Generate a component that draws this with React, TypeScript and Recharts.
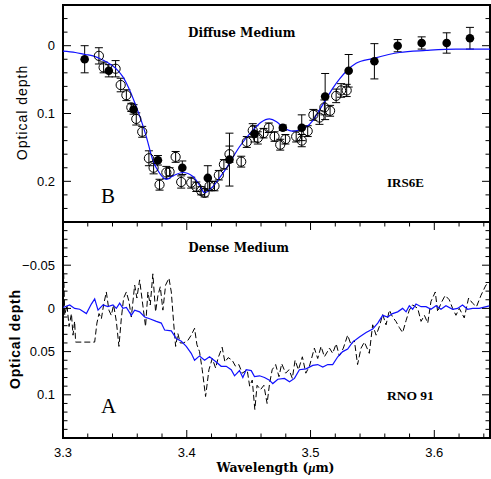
import React from "react";
import { ComposedChart, ErrorBar, Line, ReferenceArea, Scatter, XAxis, YAxis } from "recharts";

// wavelength ticks (micron)
const xTicks = [3.3, 3.32, 3.34, 3.36, 3.38, 3.4, 3.42, 3.44, 3.46, 3.48, 3.5, 3.52, 3.54, 3.56, 3.58, 3.6, 3.62, 3.64];
const xMajor = [3.3, 3.4, 3.5, 3.6];

const topTicks = [-0.06, -0.04, -0.02, 0, 0.02, 0.04, 0.06, 0.08, 0.1, 0.12, 0.14, 0.16, 0.18, 0.2, 0.22, 0.24, 0.26];
const topMajor = [0, 0.1, 0.2];

const bottomTicks = [
  -0.1, -0.09, -0.08, -0.07, -0.06, -0.05, -0.04, -0.03, -0.02, -0.01, 0, 0.01, 0.02, 0.03, 0.04, 0.05, 0.06, 0.07, 0.08,
  0.09, 0.1, 0.11, 0.12, 0.13, 0.14, 0.15
];
const bottomMajor = [-0.05, 0, 0.05, 0.1];

// diffuse medium, filled points
const diffuseFilled = [
  { lambda: 3.3175, tau: 0.02, err: 0.02 },
  { lambda: 3.337, tau: 0.037, err: 0.009 },
  { lambda: 3.357, tau: 0.094, err: 0.007 },
  { lambda: 3.3767, tau: 0.169, err: 0.007 },
  { lambda: 3.3964, tau: 0.18, err: 0.01 },
  { lambda: 3.417, tau: 0.195, err: 0.018 },
  { lambda: 3.4345, tau: 0.168, err: 0.039 },
  { lambda: 3.4547, tau: 0.13, err: 0.012 },
  { lambda: 3.4776, tau: 0.121, err: 0.004 },
  { lambda: 3.4929, tau: 0.121, err: 0.019 },
  { lambda: 3.5118, tau: 0.075, err: 0.034 },
  { lambda: 3.5308, tau: 0.037, err: 0.024 },
  { lambda: 3.5516, tau: 0.023, err: 0.026 },
  { lambda: 3.5704, tau: 0.0, err: 0.009 },
  { lambda: 3.5898, tau: -0.004, err: 0.009 },
  { lambda: 3.61, tau: -0.004, err: 0.015 },
  { lambda: 3.6288, tau: -0.011, err: 0.016 }
];

// diffuse medium, open points
const diffuseOpen = [
  { lambda: 3.329, tau: 0.015, err: 0.012 },
  { lambda: 3.3328, tau: 0.032, err: 0.008 },
  { lambda: 3.3425, tau: 0.034, err: 0.012 },
  { lambda: 3.3466, tau: 0.058, err: 0.01 },
  { lambda: 3.3512, tau: 0.073, err: 0.008 },
  { lambda: 3.3552, tau: 0.091, err: 0.006 },
  { lambda: 3.3592, tau: 0.108, err: 0.009 },
  { lambda: 3.364, tau: 0.127, err: 0.008 },
  { lambda: 3.3694, tau: 0.166, err: 0.011 },
  { lambda: 3.3732, tau: 0.18, err: 0.009 },
  { lambda: 3.378, tau: 0.205, err: 0.008 },
  { lambda: 3.3835, tau: 0.187, err: 0.009 },
  { lambda: 3.3861, tau: 0.186, err: 0.006 },
  { lambda: 3.391, tau: 0.164, err: 0.008 },
  { lambda: 3.3955, tau: 0.201, err: 0.009 },
  { lambda: 3.4036, tau: 0.202, err: 0.008 },
  { lambda: 3.4077, tau: 0.208, err: 0.007 },
  { lambda: 3.4117, tau: 0.214, err: 0.006 },
  { lambda: 3.4144, tau: 0.217, err: 0.006 },
  { lambda: 3.4184, tau: 0.207, err: 0.007 },
  { lambda: 3.4224, tau: 0.207, err: 0.007 },
  { lambda: 3.4259, tau: 0.191, err: 0.007 },
  { lambda: 3.43, tau: 0.175, err: 0.007 },
  { lambda: 3.4345, tau: 0.16, err: 0.012 },
  { lambda: 3.444, tau: 0.171, err: 0.008 },
  { lambda: 3.4485, tau: 0.142, err: 0.008 },
  { lambda: 3.4533, tau: 0.125, err: 0.01 },
  { lambda: 3.4574, tau: 0.136, err: 0.009 },
  { lambda: 3.462, tau: 0.129, err: 0.007 },
  { lambda: 3.4663, tau: 0.121, err: 0.007 },
  { lambda: 3.4709, tau: 0.134, err: 0.007 },
  { lambda: 3.4755, tau: 0.146, err: 0.008 },
  { lambda: 3.4797, tau: 0.138, err: 0.007 },
  { lambda: 3.4884, tau: 0.134, err: 0.008 },
  { lambda: 3.4929, tau: 0.14, err: 0.009 },
  { lambda: 3.4977, tau: 0.126, err: 0.008 },
  { lambda: 3.5023, tau: 0.102, err: 0.008 },
  { lambda: 3.5072, tau: 0.106, err: 0.01 },
  { lambda: 3.5112, tau: 0.091, err: 0.011 },
  { lambda: 3.5158, tau: 0.096, err: 0.008 },
  { lambda: 3.5207, tau: 0.074, err: 0.01 },
  { lambda: 3.5247, tau: 0.066, err: 0.01 },
  { lambda: 3.5292, tau: 0.066, err: 0.009 }
];

// lab spectrum fitted to the diffuse medium
const diffuseModel = [
  { lambda: 3.3, tau: 0.008 },
  { lambda: 3.31, tau: 0.01 },
  { lambda: 3.318, tau: 0.013 },
  { lambda: 3.3242, tau: 0.015 },
  { lambda: 3.332, tau: 0.021 },
  { lambda: 3.3395, tau: 0.029 },
  { lambda: 3.344, tau: 0.036 },
  { lambda: 3.3484, tau: 0.046 },
  { lambda: 3.353, tau: 0.062 },
  { lambda: 3.3592, tau: 0.09 },
  { lambda: 3.3635, tau: 0.112 },
  { lambda: 3.3673, tau: 0.134 },
  { lambda: 3.3726, tau: 0.169 },
  { lambda: 3.378, tau: 0.188 },
  { lambda: 3.3834, tau: 0.197 },
  { lambda: 3.3888, tau: 0.192 },
  { lambda: 3.3969, tau: 0.187 },
  { lambda: 3.405, tau: 0.193 },
  { lambda: 3.41, tau: 0.205 },
  { lambda: 3.4144, tau: 0.217 },
  { lambda: 3.421, tau: 0.208 },
  { lambda: 3.4265, tau: 0.195 },
  { lambda: 3.4319, tau: 0.181 },
  { lambda: 3.4426, tau: 0.149 },
  { lambda: 3.4533, tau: 0.125 },
  { lambda: 3.46, tau: 0.113 },
  { lambda: 3.4668, tau: 0.108 },
  { lambda: 3.4725, tau: 0.112 },
  { lambda: 3.4776, tau: 0.12 },
  { lambda: 3.4856, tau: 0.126 },
  { lambda: 3.4964, tau: 0.12 },
  { lambda: 3.502, tau: 0.11 },
  { lambda: 3.5072, tau: 0.095 },
  { lambda: 3.5125, tau: 0.079 },
  { lambda: 3.5179, tau: 0.063 },
  { lambda: 3.5235, tau: 0.049 },
  { lambda: 3.5287, tau: 0.038 },
  { lambda: 3.5368, tau: 0.026 },
  { lambda: 3.5502, tau: 0.019 },
  { lambda: 3.5718, tau: 0.01 },
  { lambda: 3.5933, tau: 0.007 },
  { lambda: 3.6175, tau: 0.005 },
  { lambda: 3.645, tau: 0.005 }
];

// dense medium lab spectrum (blue)
const denseModel = [
  { lambda: 3.3, tau: -0.001 }, { lambda: 3.3054, tau: -0.004 }, { lambda: 3.3094, tau: 0.0 }, { lambda: 3.3135, tau: 0.001 },
  { lambda: 3.3189, tau: 0.006 }, { lambda: 3.3229, tau: -0.005 }, { lambda: 3.3256, tau: -0.011 }, { lambda: 3.3283, tau: 0.002 },
  { lambda: 3.3323, tau: -0.004 }, { lambda: 3.3363, tau: -0.002 }, { lambda: 3.3404, tau: -0.004 }, { lambda: 3.3431, tau: 0.0 },
  { lambda: 3.3458, tau: -0.006 }, { lambda: 3.3484, tau: 0.0 }, { lambda: 3.3512, tau: -0.001 }, { lambda: 3.3552, tau: 0.008 },
  { lambda: 3.3579, tau: 0.002 }, { lambda: 3.3619, tau: 0.004 }, { lambda: 3.366, tau: 0.01 }, { lambda: 3.37, tau: 0.012 },
  { lambda: 3.3754, tau: 0.015 }, { lambda: 3.3794, tau: 0.017 }, { lambda: 3.3821, tau: 0.025 }, { lambda: 3.3875, tau: 0.026 },
  { lambda: 3.3915, tau: 0.035 }, { lambda: 3.3956, tau: 0.038 }, { lambda: 3.3996, tau: 0.044 }, { lambda: 3.4036, tau: 0.052 },
  { lambda: 3.4063, tau: 0.06 }, { lambda: 3.4103, tau: 0.055 }, { lambda: 3.4144, tau: 0.06 }, { lambda: 3.4184, tau: 0.056 },
  { lambda: 3.4238, tau: 0.062 }, { lambda: 3.4278, tau: 0.067 }, { lambda: 3.4319, tau: 0.067 }, { lambda: 3.4359, tau: 0.071 },
  { lambda: 3.4386, tau: 0.078 }, { lambda: 3.4426, tau: 0.072 }, { lambda: 3.4453, tau: 0.08 }, { lambda: 3.448, tau: 0.071 },
  { lambda: 3.4521, tau: 0.072 }, { lambda: 3.4547, tau: 0.079 }, { lambda: 3.4588, tau: 0.078 }, { lambda: 3.4628, tau: 0.08 },
  { lambda: 3.4668, tau: 0.083 }, { lambda: 3.4695, tau: 0.087 }, { lambda: 3.4736, tau: 0.082 }, { lambda: 3.4789, tau: 0.081 },
  { lambda: 3.483, tau: 0.085 }, { lambda: 3.487, tau: 0.081 }, { lambda: 3.491, tau: 0.071 }, { lambda: 3.4964, tau: 0.07 },
  { lambda: 3.5018, tau: 0.066 }, { lambda: 3.5058, tau: 0.065 }, { lambda: 3.5099, tau: 0.068 }, { lambda: 3.5139, tau: 0.065 },
  { lambda: 3.5179, tau: 0.065 }, { lambda: 3.522, tau: 0.056 }, { lambda: 3.526, tau: 0.05 }, { lambda: 3.53, tau: 0.047 },
  { lambda: 3.534, tau: 0.039 }, { lambda: 3.5395, tau: 0.033 }, { lambda: 3.5449, tau: 0.028 }, { lambda: 3.5502, tau: 0.024 },
  { lambda: 3.5543, tau: 0.017 }, { lambda: 3.5583, tau: 0.008 }, { lambda: 3.5623, tau: 0.01 }, { lambda: 3.5663, tau: 0.006 },
  { lambda: 3.5704, tau: 0.004 }, { lambda: 3.5744, tau: 0.0 }, { lambda: 3.5772, tau: 0.004 }, { lambda: 3.5798, tau: -0.003 },
  { lambda: 3.5825, tau: 0.001 }, { lambda: 3.5852, tau: -0.005 }, { lambda: 3.5893, tau: -0.002 }, { lambda: 3.5933, tau: -0.002 },
  { lambda: 3.5973, tau: 0.001 }, { lambda: 3.6014, tau: -0.003 }, { lambda: 3.6054, tau: 0.001 }, { lambda: 3.6094, tau: -0.003 },
  { lambda: 3.6148, tau: 0.001 }, { lambda: 3.6188, tau: 0.0 }, { lambda: 3.6228, tau: -0.004 }, { lambda: 3.6269, tau: 0.001 },
  { lambda: 3.6309, tau: 0.0 }, { lambda: 3.6363, tau: 0.0 }, { lambda: 3.6444, tau: -0.003 }
];

// RNO 91 observed spectrum (dashed)
const rno91 = [
  { lambda: 3.3, tau: -0.062 }, { lambda: 3.3006, tau: -0.038 }, { lambda: 3.3014, tau: 0.008 }, { lambda: 3.3032, tau: -0.004 },
  { lambda: 3.3049, tau: 0.021 }, { lambda: 3.3068, tau: 0.006 }, { lambda: 3.3081, tau: 0.031 }, { lambda: 3.3094, tau: 0.015 },
  { lambda: 3.3102, tau: 0.039 }, { lambda: 3.3256, tau: 0.039 }, { lambda: 3.3274, tau: 0.017 }, { lambda: 3.3291, tau: 0.006 },
  { lambda: 3.331, tau: 0.012 }, { lambda: 3.3328, tau: -0.004 }, { lambda: 3.335, tau: -0.019 }, { lambda: 3.3371, tau: 0.002 },
  { lambda: 3.339, tau: 0.008 }, { lambda: 3.3409, tau: -0.004 }, { lambda: 3.3431, tau: 0.015 }, { lambda: 3.3452, tau: 0.044 },
  { lambda: 3.3471, tau: 0.012 }, { lambda: 3.349, tau: -0.012 }, { lambda: 3.3512, tau: -0.019 }, { lambda: 3.3533, tau: -0.008 },
  { lambda: 3.3552, tau: 0.01 }, { lambda: 3.3579, tau: -0.027 }, { lambda: 3.3597, tau: -0.012 }, { lambda: 3.3619, tau: -0.033 },
  { lambda: 3.3641, tau: -0.008 }, { lambda: 3.3667, tau: 0.021 }, { lambda: 3.3686, tau: -0.019 }, { lambda: 3.3705, tau: -0.004 },
  { lambda: 3.3726, tau: -0.04 }, { lambda: 3.3748, tau: 0.004 }, { lambda: 3.3767, tau: -0.015 }, { lambda: 3.3786, tau: -0.025 },
  { lambda: 3.3807, tau: 0.002 }, { lambda: 3.3829, tau: -0.027 }, { lambda: 3.3856, tau: -0.035 }, { lambda: 3.3875, tau: -0.019 },
  { lambda: 3.3893, tau: 0.015 }, { lambda: 3.391, tau: 0.044 }, { lambda: 3.3928, tau: 0.029 }, { lambda: 3.3947, tau: 0.04 },
  { lambda: 3.3974, tau: 0.04 }, { lambda: 3.4009, tau: 0.037 }, { lambda: 3.4036, tau: 0.031 }, { lambda: 3.4063, tau: 0.023 },
  { lambda: 3.4082, tau: 0.042 }, { lambda: 3.4103, tau: 0.05 }, { lambda: 3.4125, tau: 0.071 }, { lambda: 3.4152, tau: 0.102 },
  { lambda: 3.4179, tau: 0.071 }, { lambda: 3.4206, tau: 0.058 }, { lambda: 3.4233, tau: 0.069 }, { lambda: 3.4254, tau: 0.057 },
  { lambda: 3.4286, tau: 0.045 }, { lambda: 3.4308, tau: 0.062 }, { lambda: 3.4335, tau: 0.057 }, { lambda: 3.4367, tau: 0.06 },
  { lambda: 3.4394, tau: 0.067 }, { lambda: 3.4421, tau: 0.065 }, { lambda: 3.4448, tau: 0.075 }, { lambda: 3.4488, tau: 0.071 },
  { lambda: 3.4508, tau: 0.09 }, { lambda: 3.4529, tau: 0.083 }, { lambda: 3.455, tau: 0.117 }, { lambda: 3.4568, tau: 0.089 },
  { lambda: 3.4596, tau: 0.094 }, { lambda: 3.4623, tau: 0.089 }, { lambda: 3.4649, tau: 0.11 }, { lambda: 3.4669, tau: 0.087 },
  { lambda: 3.469, tau: 0.071 }, { lambda: 3.4718, tau: 0.065 }, { lambda: 3.4745, tau: 0.079 }, { lambda: 3.4767, tau: 0.064 },
  { lambda: 3.4799, tau: 0.075 }, { lambda: 3.4826, tau: 0.071 }, { lambda: 3.4853, tau: 0.081 }, { lambda: 3.4875, tau: 0.06 },
  { lambda: 3.4902, tau: 0.071 }, { lambda: 3.4934, tau: 0.056 }, { lambda: 3.4962, tau: 0.075 }, { lambda: 3.4991, tau: 0.067 },
  { lambda: 3.5031, tau: 0.046 }, { lambda: 3.5058, tau: 0.058 }, { lambda: 3.5085, tau: 0.044 }, { lambda: 3.5112, tau: 0.056 },
  { lambda: 3.5153, tau: 0.046 }, { lambda: 3.5179, tau: 0.052 }, { lambda: 3.5207, tau: 0.041 }, { lambda: 3.5233, tau: 0.055 },
  { lambda: 3.5265, tau: 0.046 }, { lambda: 3.53, tau: 0.031 }, { lambda: 3.5327, tau: 0.042 }, { lambda: 3.5354, tau: 0.037 },
  { lambda: 3.538, tau: 0.065 }, { lambda: 3.5408, tau: 0.046 }, { lambda: 3.5435, tau: 0.039 }, { lambda: 3.5475, tau: 0.052 },
  { lambda: 3.5502, tau: 0.019 }, { lambda: 3.553, tau: 0.031 }, { lambda: 3.5556, tau: 0.021 }, { lambda: 3.5583, tau: 0.007 },
  { lambda: 3.561, tau: 0.019 }, { lambda: 3.5637, tau: 0.002 }, { lambda: 3.5663, tau: 0.01 }, { lambda: 3.569, tau: 0.015 },
  { lambda: 3.5717, tau: 0.022 }, { lambda: 3.5744, tau: 0.028 }, { lambda: 3.5772, tau: 0.014 }, { lambda: 3.5798, tau: 0.002 },
  { lambda: 3.5825, tau: -0.004 }, { lambda: 3.5866, tau: 0.0 }, { lambda: 3.5893, tau: 0.015 }, { lambda: 3.592, tau: 0.008 },
  { lambda: 3.5947, tau: 0.017 }, { lambda: 3.5973, tau: -0.008 }, { lambda: 3.6008, tau: -0.019 }, { lambda: 3.6027, tau: 0.004 },
  { lambda: 3.6054, tau: -0.006 }, { lambda: 3.6088, tau: -0.015 }, { lambda: 3.6121, tau: -0.01 }, { lambda: 3.6148, tau: 0.0 },
  { lambda: 3.6175, tau: 0.008 }, { lambda: 3.6202, tau: 0.0 }, { lambda: 3.6242, tau: 0.011 }, { lambda: 3.6277, tau: -0.012 },
  { lambda: 3.6309, tau: -0.006 }, { lambda: 3.6341, tau: -0.002 }, { lambda: 3.6377, tau: -0.015 }, { lambda: 3.6417, tau: -0.027 },
  { lambda: 3.6444, tau: -0.029 }
];

const X_DOMAIN = [3.3, 3.645];
const TOP_DOMAIN = [-0.06, 0.26];
const BOTTOM_DOMAIN = [-0.1, 0.15];

const PLOT_LEFT = 63;
const PLOT_RIGHT = 490;
const BLUE = "#1010ff";
const sans = "'Liberation Sans', Arial, sans-serif";
const roman = "'DejaVu Serif', serif";
const times = "'Liberation Serif', serif";

const isMajor = (v: number, majors: number[]) => majors.some((m) => Math.abs(m - v) < 1e-9);
const fmt = (v: number) => (v < 0 ? "\u2212" + String(-v) : String(v));

// y ticks point inward on both the left and right frame
function YTick(props: any) {
  const { payload, majors } = props;
  const y = payload.coordinate;
  const major = isMajor(payload.value, majors);
  const len = major ? 8 : 4.5;
  return (
    <g>
      <line x1={PLOT_LEFT} x2={PLOT_LEFT + len} y1={y} y2={y} stroke="#000" strokeWidth={1} />
      <line x1={PLOT_RIGHT - len} x2={PLOT_RIGHT} y1={y} y2={y} stroke="#000" strokeWidth={1} />
      {major && (
        <text x={55} y={y} dy="0.36em" textAnchor="end" fontFamily={sans} fontSize={13} fill="#000">
          {fmt(payload.value)}
        </text>
      )}
    </g>
  );
}

// x ticks on top and bottom of the frame
function XTick(props: any) {
  const { payload, plotTop, plotBottom, labels } = props;
  const x = payload.coordinate;
  const major = isMajor(payload.value, xMajor);
  const len = major ? 8 : 4.5;
  return (
    <g>
      <line x1={x} x2={x} y1={plotTop} y2={plotTop + len} stroke="#000" strokeWidth={1} />
      <line x1={x} x2={x} y1={plotBottom - len} y2={plotBottom} stroke="#000" strokeWidth={1} />
      {labels && major && (
        <text x={x} y={plotBottom + 18.5} textAnchor="middle" fontFamily={sans} fontSize={13} fill="#000">
          {payload.value.toFixed(1)}
        </text>
      )}
    </g>
  );
}

const openCircle = (p: any) => <circle cx={p.cx} cy={p.cy} r={4.6} fill="none" stroke="#000" strokeWidth={1} />;
const filledCircle = (p: any) => <circle cx={p.cx} cy={p.cy} r={4.3} fill="#000" />;

function DiffusePanel() {
  return (
    <ComposedChart width={491} height={222} margin={{ top: 5, right: 1, bottom: 0, left: 0 }}>
      <XAxis
        dataKey="lambda"
        type="number"
        domain={X_DOMAIN}
        allowDataOverflow
        ticks={xTicks}
        interval={0}
        height={0}
        axisLine={false}
        tickLine={false}
        tick={<XTick plotTop={5} plotBottom={222} labels={false} />}
      />
      <YAxis
        type="number"
        domain={TOP_DOMAIN}
        reversed
        allowDataOverflow
        ticks={topTicks}
        interval={0}
        width={63}
        axisLine={false}
        tickLine={false}
        tick={<YTick majors={topMajor} />}
      />
      <ReferenceArea x1={X_DOMAIN[0]} x2={X_DOMAIN[1]} y1={TOP_DOMAIN[0]} y2={TOP_DOMAIN[1]} fill="none" stroke="#000" strokeWidth={2} />
      <Scatter data={diffuseOpen} dataKey="tau" shape={openCircle} isAnimationActive={false}>
        <ErrorBar dataKey="err" direction="y" width={4} stroke="#000" strokeWidth={1} isAnimationActive={false} />
      </Scatter>
      <Scatter data={diffuseFilled} dataKey="tau" shape={filledCircle} isAnimationActive={false}>
        <ErrorBar dataKey="err" direction="y" width={4} stroke="#000" strokeWidth={1} isAnimationActive={false} />
      </Scatter>
      <Line data={diffuseModel} dataKey="tau" type="monotone" stroke={BLUE} strokeWidth={1.2} dot={false} isAnimationActive={false} />
    </ComposedChart>
  );
}

function DensePanel() {
  return (
    <ComposedChart width={491} height={257} margin={{ top: 0, right: 1, bottom: 0, left: 0 }}>
      <XAxis
        dataKey="lambda"
        type="number"
        domain={X_DOMAIN}
        allowDataOverflow
        ticks={xTicks}
        interval={0}
        height={41}
        axisLine={false}
        tickLine={false}
        tick={<XTick plotTop={0} plotBottom={216} labels />}
      />
      <YAxis
        type="number"
        domain={BOTTOM_DOMAIN}
        reversed
        allowDataOverflow
        ticks={bottomTicks}
        interval={0}
        width={63}
        axisLine={false}
        tickLine={false}
        tick={<YTick majors={bottomMajor} />}
      />
      <ReferenceArea x1={X_DOMAIN[0]} x2={X_DOMAIN[1]} y1={BOTTOM_DOMAIN[0]} y2={BOTTOM_DOMAIN[1]} fill="none" stroke="#000" strokeWidth={2} />
      <Line data={rno91} dataKey="tau" type="linear" stroke="#000" strokeWidth={1} strokeDasharray="6 3" dot={false} isAnimationActive={false} />
      <Line data={denseModel} dataKey="tau" type="linear" stroke={BLUE} strokeWidth={1.2} dot={false} isAnimationActive={false} />
    </ComposedChart>
  );
}

export default function App() {
  return (
    <div style={{ position: "absolute", left: 0, top: 0, width: 491, height: 479, background: "#fff" }}>
      <div style={{ position: "absolute", left: 0, top: 0 }}>
        <DiffusePanel />
      </div>
      <div style={{ position: "absolute", left: 0, top: 222 }}>
        <DensePanel />
      </div>
      <svg width={491} height={479} style={{ position: "absolute", left: 0, top: 0, pointerEvents: "none" }}>
        <text x={241.7} y={36.5} textAnchor="middle" fontFamily={roman} fontWeight="bold" fontSize={12}>Diffuse Medium</text>
        <text x={387} y={186.5} fontFamily={times} fontWeight="bold" fontSize={13}>IRS6E</text>
        <text x={101} y={203} fontFamily={times} fontSize={21}>B</text>
        <text x={188.3} y={251.5} fontFamily={roman} fontWeight="bold" fontSize={12}>Dense Medium</text>
        <text x={387} y={400} fontFamily={times} fontWeight="bold" fontSize={13.5}>RNO 91</text>
        <text x={101} y={413} fontFamily={times} fontSize={21}>A</text>
        <text x={26.5} y={112.5} transform="rotate(-90 26.5 112.5)" textAnchor="middle" fontFamily={sans} fontSize={14} letterSpacing={1}>
          Optical depth
        </text>
        <text x={19.5} y={339} transform="rotate(-90 19.5 339)" textAnchor="middle" fontFamily={sans} fontWeight="bold" fontSize={14} letterSpacing={0.8}>
          Optical depth
        </text>
        <text x={275.5} y={471.5} textAnchor="middle" fontFamily={roman} fontWeight="bold" fontSize={12.5}>
          Wavelength (<tspan fontFamily={times} fontStyle="italic">μ</tspan>m)
        </text>
      </svg>
    </div>
  );
}
